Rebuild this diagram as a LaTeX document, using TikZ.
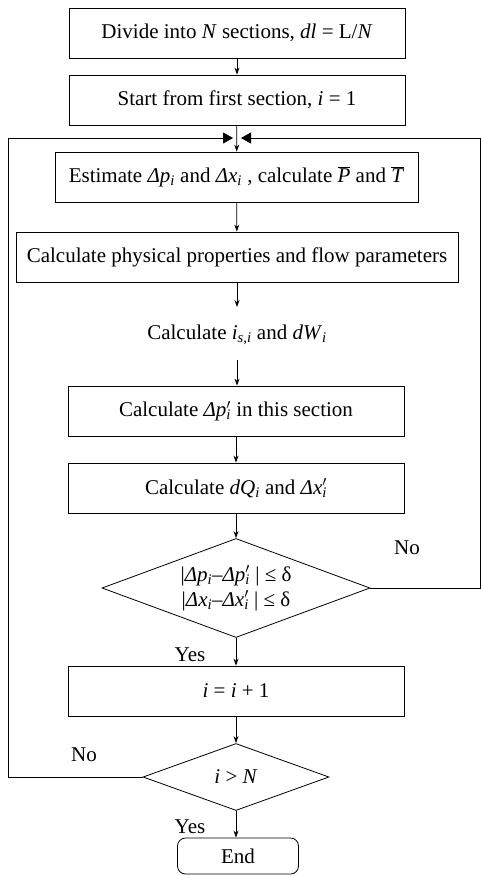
\documentclass[tikz,border=0pt]{standalone}
\usepackage{fontspec}
\setmainfont{Liberation Serif}
\usetikzlibrary{shapes.geometric,arrows.meta}

\newcommand{\sub}[2]{\textit{#1}\textsubscript{\textit{#2}}}
\newcommand{\primsub}[2]{\textit{#1}\rlap{$^{\prime}$}\textsubscript{\textit{#2}}}
\newcommand{\barra}[1]{$\overline{\mbox{\textit{#1}}}$}

\begin{document}
\begin{tikzpicture}[x=1pt,y=1pt,
		texto/.style={font=\fontsize{21pt}{25pt}\selectfont},
		caja/.style={texto,draw,line width=0.8pt,minimum height=50pt,inner sep=0pt},
		rombo/.style={texto,draw,diamond,line width=0.8pt,inner sep=-8pt,align=center},
		flecha/.style={-{Stealth[length=7pt,width=5pt]},line width=0.8pt},
		retorno/.style={-{Triangle[length=10pt,width=11pt]},line width=0.8pt}]
		\useasboundingbox (0,0) rectangle (481,-876);

		%Cajas
		\node [caja,minimum width=336pt] (paso1) at (237,-33) {Divide into \textit{N} sections, \textit{dl} = L/\textit{N}};
		\node [caja,minimum width=336pt] (paso2) at (237,-100) {Start from first section, \textit{i} = 1};
		\node [caja,minimum width=363pt] (paso3) at (236.5,-177) {Estimate \sub{Δp}{i} and \sub{Δx}{i} , calculate \barra{P} and \barra{T}};
		\node [caja,minimum width=442pt] (paso4) at (237,-257) {Calculate physical properties and flow parameters};
		\node [texto] (paso5) at (237,-335) {Calculate \textit{i}\textsubscript{\textit{s},\textit{i}} and \sub{dW}{i}};
		\node [caja,minimum width=336pt] (paso6) at (236,-411) {Calculate \primsub{Δp}{i} in this section};
		\node [caja,minimum width=336pt] (paso7) at (236,-488) {Calculate \sub{dQ}{i} and \primsub{Δx}{i}};
		\node [rombo,aspect=2.7,minimum width=268pt,minimum height=99pt] (decision1) at (236,-588) {|\sub{Δp}{i}–\primsub{Δp}{i} | ≤ δ\\|\sub{Δx}{i}–\primsub{Δx}{i} | ≤ δ};
		\node [caja,minimum width=336pt] (paso8) at (236,-691) {\textit{i} = \textit{i} + 1};
		\node [rombo,aspect=2.78,minimum width=186pt,minimum height=67pt] (decision2) at (236,-777) {\textit{i} > \textit{N}};
		\node [caja,rounded corners=8pt,minimum width=121pt,minimum height=36pt] (fin) at (238,-856) {End};

		%Etiquetas
		\node [texto] (no1) at (407,-548) {No};
		\node [texto] (si1) at (190,-655) {Yes};
		\node [texto] (no2) at (84,-755) {No};
		\node [texto] (si2) at (190,-827) {Yes};

		%Puntos de retorno
		\coordinate (union) at (237,-138);
		\coordinate (llegadaIzq) at (233,-138);
		\coordinate (llegadaDer) at (241,-138);
		\coordinate (izqAbajo) at (8,-777);
		\coordinate (izqArriba) at (8,-138);
		\coordinate (derAbajo) at (480,-588);
		\coordinate (derArriba) at (480,-138);

		%Flechas
		\draw[flecha] (paso1)--(paso2);
		\draw[flecha] (paso2)--(paso3);
		\draw[flecha] (paso3)--(paso4);
		\draw[flecha] (paso4.south)--(237,-307);
		\draw[flecha] (237,-360)--(paso6.north-|237,0);
		\draw[flecha] (paso6)--(paso7);
		\draw[flecha] (paso7)--(decision1);
		\draw[flecha] (decision1)--(paso8);
		\draw[flecha] (paso8)--(decision2);
		\draw[flecha] (decision2)--(fin.north-|decision2);
		\draw[retorno] (decision2.west)--(izqAbajo)--(izqArriba)--(llegadaIzq);
		\draw[retorno] (decision1.east)--(derAbajo)--(derArriba)--(llegadaDer);
\end{tikzpicture}
\end{document}
